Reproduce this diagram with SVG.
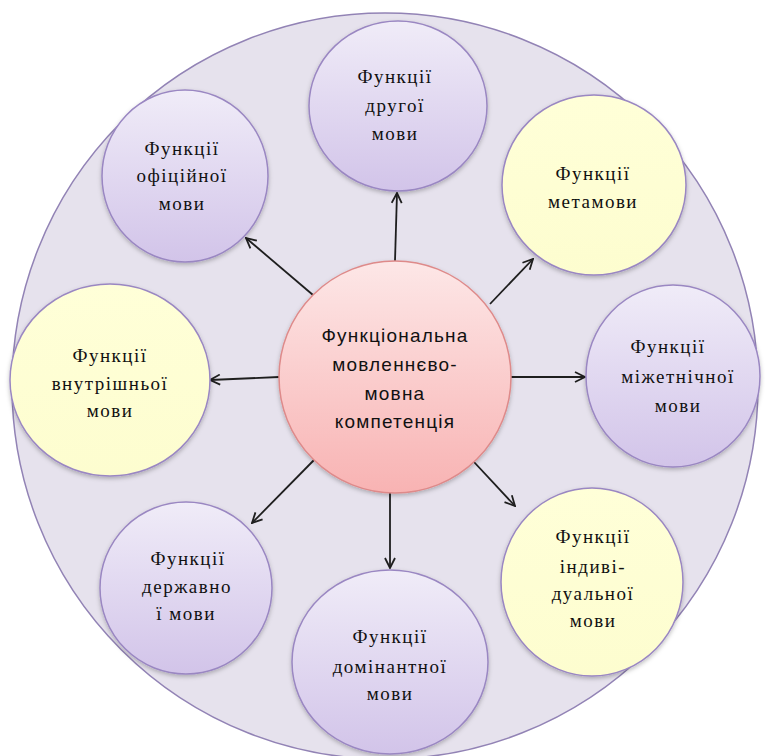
<svg xmlns="http://www.w3.org/2000/svg" width="765" height="756" viewBox="0 0 765 756">
<defs>
<style>
.lbl{font-family:"Liberation Serif","DejaVu Serif",serif;font-size:19px;fill:#111;text-anchor:middle;letter-spacing:1.5px}
.ctr{font-family:"Liberation Sans","DejaVu Sans",sans-serif;font-size:19px;fill:#111;text-anchor:middle;letter-spacing:1.2px}
.pn{fill:url(#gp);stroke:#9a87c2;stroke-width:1.5;filter:url(#sh)}
.yn{fill:url(#gy);stroke:#9a87c2;stroke-width:1.5;filter:url(#sh)}
.arr{stroke:#1e1e1e;stroke-width:1.8;fill:none;marker-end:url(#ah)}
</style>
<linearGradient id="gp" x1="0" y1="0" x2="0" y2="1">
<stop offset="0" stop-color="#f0ecf8"/>
<stop offset="1" stop-color="#d2c4e9"/>
</linearGradient>
<linearGradient id="gy" x1="0" y1="0" x2="0" y2="1">
<stop offset="0" stop-color="#ffffd8"/>
<stop offset="1" stop-color="#fdfdcf"/>
</linearGradient>
<linearGradient id="gc" x1="0" y1="0" x2="0" y2="1">
<stop offset="0" stop-color="#fde7e7"/>
<stop offset="1" stop-color="#f8b3b3"/>
</linearGradient>
<filter id="sh" x="-10%" y="-10%" width="120%" height="125%">
<feDropShadow dx="0" dy="2" stdDeviation="2" flood-color="#000" flood-opacity="0.25"/>
</filter>
<marker id="ah" viewBox="0 0 12 12" refX="11" refY="6" markerWidth="12" markerHeight="12" markerUnits="userSpaceOnUse" orient="auto">
<path d="M1,1 L11,6 L1,11" fill="none" stroke="#1e1e1e" stroke-width="1.8"/>
</marker>
</defs>
<rect width="765" height="756" fill="#ffffff"/>
<g id="outer">
<circle cx="385" cy="386" r="373" fill="#e6e2ed" stroke="#9283b5" stroke-width="1.5"/>
</g>
<g id="connectors">
<line class="arr" x1="395" y1="261" x2="397" y2="193"/>
<line class="arr" x1="313" y1="295" x2="246" y2="238"/>
<line class="arr" x1="490" y1="304" x2="533" y2="259"/>
<line class="arr" x1="279" y1="377" x2="210" y2="380"/>
<line class="arr" x1="511" y1="377" x2="585" y2="377"/>
<line class="arr" x1="314" y1="460" x2="252" y2="523"/>
<line class="arr" x1="390" y1="492" x2="390" y2="568"/>
<line class="arr" x1="474" y1="462" x2="515" y2="506"/>
</g>
<g id="n-druhoi">
<ellipse class="pn" cx="398" cy="106" rx="89" ry="85"/>
<text class="lbl" x="395" y="83">Функції</text>
<text class="lbl" x="395" y="112">другої</text>
<text class="lbl" x="395" y="140">мови</text>
</g>
<g id="n-ofitsiinoi">
<ellipse class="pn" cx="185" cy="176" rx="83" ry="86"/>
<text class="lbl" x="182" y="155">Функції</text>
<text class="lbl" x="182" y="182">офіційної</text>
<text class="lbl" x="182" y="210">мови</text>
</g>
<g id="n-metamovy">
<ellipse class="yn" cx="594" cy="185" rx="92" ry="90"/>
<text class="lbl" x="593" y="180">Функції</text>
<text class="lbl" x="593" y="208">метамови</text>
</g>
<g id="n-vnutrishnoi">
<ellipse class="yn" cx="110" cy="380" rx="100" ry="96"/>
<text class="lbl" x="110" y="362">Функції</text>
<text class="lbl" x="110" y="390">внутрішньої</text>
<text class="lbl" x="110" y="417">мови</text>
</g>
<g id="n-mizhetnichnoi">
<ellipse class="pn" cx="673" cy="376" rx="87" ry="91"/>
<text class="lbl" x="668" y="353">Функції</text>
<text class="lbl" x="678" y="383">міжетнічної</text>
<text class="lbl" x="678" y="412">мови</text>
</g>
<g id="n-derzhavnoi">
<ellipse class="pn" cx="186" cy="588" rx="86" ry="86"/>
<text class="lbl" x="188" y="565">Функції</text>
<text class="lbl" x="187" y="593">державно</text>
<text class="lbl" x="186" y="620">ї мови</text>
</g>
<g id="n-dominantnoi">
<ellipse class="pn" cx="390" cy="662" rx="98" ry="92"/>
<text class="lbl" x="390" y="643">Функції</text>
<text class="lbl" x="390" y="673">домінантної</text>
<text class="lbl" x="390" y="700">мови</text>
</g>
<g id="n-indyvidualnoi">
<ellipse class="yn" cx="592" cy="582" rx="91" ry="94"/>
<text class="lbl" x="593" y="543">Функції</text>
<text class="lbl" x="593" y="573">індиві-</text>
<text class="lbl" x="593" y="600">дуальної</text>
<text class="lbl" x="593" y="627">мови</text>
</g>
<g id="n-center">
<circle cx="395" cy="377" r="116" fill="url(#gc)" stroke="#de8a8a" stroke-width="1.5" filter="url(#sh)"/>
<text class="ctr" x="395" y="342">Функціональна</text>
<text class="ctr" x="395" y="371">мовленнєво-</text>
<text class="ctr" x="395" y="400">мовна</text>
<text class="ctr" x="395" y="428">компетенція</text>
</g>
</svg>
